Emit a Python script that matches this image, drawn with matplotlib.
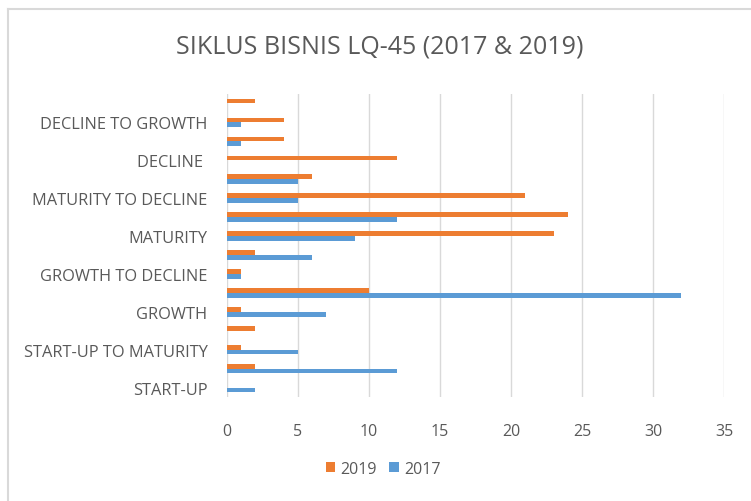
import numpy as np
import matplotlib
matplotlib.use('Agg')
import matplotlib.pyplot as plt
from matplotlib.lines import Line2D

# categories from bottom to top (only every other one is labelled in the chart)
categories = ['START-UP', 'START-UP TO GROWTH', 'START-UP TO MATURITY', 'START-UP TO DECLINE',
              'GROWTH', 'GROWTH TO MATURITY', 'GROWTH TO DECLINE', 'MATURITY TO GROWTH',
              'MATURITY', 'MATURITY TO MATURITY', 'MATURITY TO DECLINE', 'DECLINE TO MATURITY',
              'DECLINE ', 'DECLINE TO DECLINE', 'DECLINE TO GROWTH', 'GROWTH TO START-UP']
v2017 = [2, 12, 5, 0, 7, 32, 1, 6, 9, 12, 5, 5, 0, 1, 1, 0]
v2019 = [0, 2, 1, 2, 1, 10, 1, 2, 23, 24, 21, 6, 12, 4, 4, 2]
xticks = [0, 5, 10, 15, 20, 25, 30, 35]

text_col = '#595959'
plt.rcParams['font.family'] = ['Open Sans', 'DejaVu Sans']

fig = plt.figure(figsize=(7.51, 5.02), dpi=100)
ax = fig.add_axes([227/751, 1-398/502, (724-227)/751, (398-95)/502])

y = np.arange(len(categories))
h = 0.25
ax.barh(y - h/2, v2017, height=h, color='#5B9BD5', label='2017', zorder=3)
ax.barh(y + h/2, v2019, height=h, color='#ED7D31', label='2019', zorder=3)

ax.set_xlim(0, 35)
ax.set_ylim(-0.5, len(categories) - 0.5)
ax.set_xticks(xticks)
ax.set_xticklabels([str(t) for t in xticks], fontsize=11.5, color=text_col)
ax.set_yticks(y[::2])
ax.set_yticklabels(categories[::2], fontsize=11.8, color=text_col)
ax.tick_params(axis='x', length=0, pad=19)
ax.tick_params(axis='y', length=0, pad=14)
ax.grid(axis='x', color='#D9D9D9', linewidth=1, zorder=0)
for s in ax.spines.values():
    s.set_visible(False)

fig.text(380/751, 1-47/502, 'SIKLUS BISNIS LQ-45 (2017 & 2019)', fontsize=18,
         color=text_col, ha='center', va='center')

handles, labels = ax.get_legend_handles_labels()
fig.legend(handles[::-1], labels[::-1], loc='center', bbox_to_anchor=(383/751, 1-470/502),
           ncol=2, frameon=False, fontsize=11.5, labelcolor=text_col,
           handlelength=0.6, handleheight=0.6, handletextpad=0.3, columnspacing=0.8)

# chart border (top and left edges visible)
fig.add_artist(Line2D([8/751, 8/751], [0, 1-10/502], color='#D9D9D9', linewidth=1.5))
fig.add_artist(Line2D([8/751, 1], [1-10/502, 1-10/502], color='#D9D9D9', linewidth=1.5))

fig.savefig('out.png', dpi=100)
